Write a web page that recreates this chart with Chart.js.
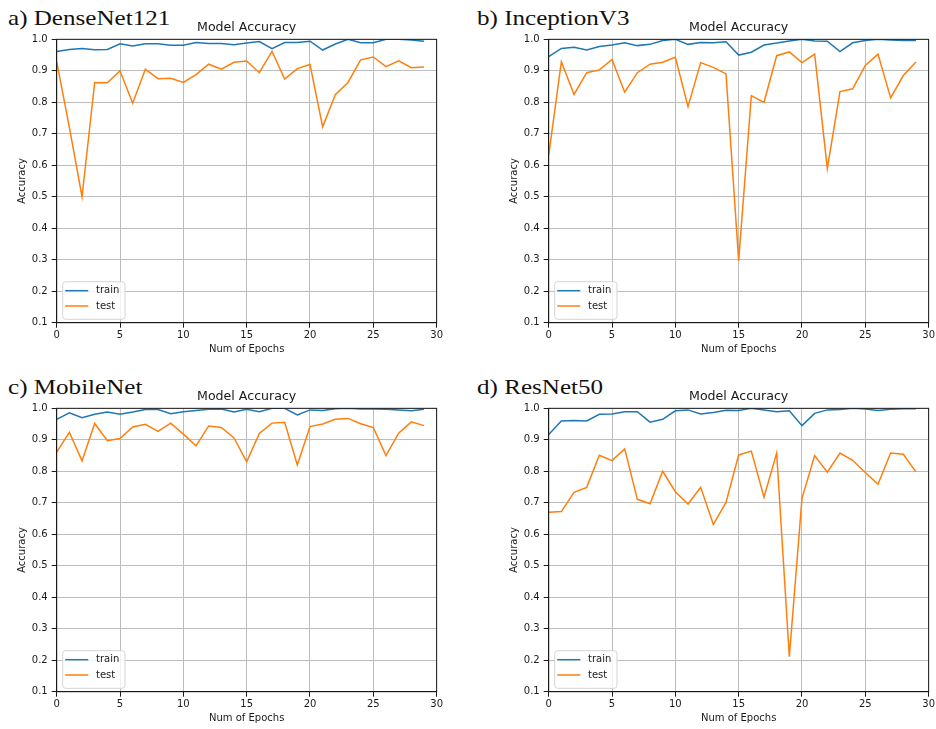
<!DOCTYPE html>
<html>
<head>
<meta charset="utf-8">
<script src="https://cdn.jsdelivr.net/npm/chart.js@4.4.1/dist/chart.umd.min.js"></script>
<style>
  html, body { margin: 0; padding: 0; background: #fff; width: 936px; height: 729px; overflow: hidden; }
  .panel { position: absolute; }
  .panel-label {
    position: absolute;
    font-family: 'Liberation Serif', 'Times New Roman', serif;
    font-size: 22px;
    line-height: 22px;
    color: #111;
    white-space: nowrap;
    transform: scaleX(1.14);
    transform-origin: left top;
  }
</style>
</head>
<body>
<div class="panel-label" style="left:8px;top:6.6px">a) DenseNet121</div>
<div class="panel-label" style="left:477px;top:6.6px">b) InceptionV3</div>
<div class="panel-label" style="left:8px;top:375.6px">c) MobileNet</div>
<div class="panel-label" style="left:477px;top:375.6px">d) ResNet50</div>

<canvas id="chart-dense" class="panel" width="445" height="360" style="left:0;top:0"></canvas>
<canvas id="chart-inception" class="panel" width="445" height="360" style="left:491.6px;top:0"></canvas>
<canvas id="chart-mobile" class="panel" width="445" height="360" style="left:0;top:369px"></canvas>
<canvas id="chart-resnet" class="panel" width="445" height="360" style="left:491.6px;top:369px"></canvas>

<script>
const epochs = [0, 1, 2, 3, 4, 5, 6, 7, 8, 9, 10, 11, 12, 13, 14, 15, 16, 17, 18, 19, 20, 21, 22, 23, 24, 25, 26, 27, 28, 29];
const yTicks = [0.1, 0.2, 0.3, 0.4, 0.5, 0.6, 0.7, 0.8, 0.9, 1.0];
const xTicks = [0, 5, 10, 15, 20, 25, 30];

const denseTrain = [0.961, 0.968, 0.971, 0.967, 0.968, 0.986, 0.979, 0.986, 0.986, 0.981, 0.981, 0.990, 0.987, 0.987, 0.983,
                    0.988, 0.993, 0.970, 0.990, 0.990, 0.994, 0.966, 0.985, 1.000, 0.989, 0.989, 1.000, 1.000, 0.998, 0.994];
const denseTest = [0.929, 0.720, 0.500, 0.863, 0.862, 0.900, 0.797, 0.905, 0.875, 0.876, 0.863, 0.888, 0.921, 0.905, 0.927,
                   0.931, 0.894, 0.962, 0.874, 0.907, 0.920, 0.722, 0.824, 0.863, 0.935, 0.944, 0.913, 0.932, 0.910, 0.912];

const inceptionTrain = [0.945, 0.971, 0.975, 0.966, 0.977, 0.982, 0.989, 0.980, 0.984, 0.996, 1.000, 0.984, 0.990, 0.989, 0.992,
                        0.950, 0.959, 0.982, 0.988, 0.995, 1.000, 0.995, 0.994, 0.961, 0.989, 0.996, 1.000, 0.998, 0.996, 0.996];
const inceptionTest = [0.632, 0.929, 0.825, 0.894, 0.903, 0.936, 0.832, 0.894, 0.921, 0.927, 0.943, 0.786, 0.926, 0.911, 0.890,
                       0.297, 0.821, 0.800, 0.948, 0.960, 0.926, 0.953, 0.590, 0.834, 0.843, 0.917, 0.953, 0.814, 0.885, 0.928];

const mobileTrain = [0.965, 0.986, 0.970, 0.981, 0.988, 0.981, 0.988, 0.996, 0.996, 0.983, 0.989, 0.993, 0.997, 0.998, 0.988,
                     0.997, 0.989, 1.000, 1.000, 0.979, 0.995, 0.993, 0.999, 1.000, 0.998, 0.998, 0.997, 0.995, 0.992, 0.997];
const mobileTest = [0.861, 0.924, 0.833, 0.952, 0.897, 0.904, 0.941, 0.949, 0.927, 0.953, 0.918, 0.881, 0.944, 0.939, 0.906,
                    0.830, 0.920, 0.953, 0.956, 0.820, 0.942, 0.950, 0.965, 0.968, 0.951, 0.939, 0.850, 0.921, 0.957, 0.945];

const resnetTrain = [0.917, 0.960, 0.961, 0.960, 0.981, 0.982, 0.989, 0.989, 0.956, 0.965, 0.992, 0.995, 0.982, 0.987, 0.994,
                     0.993, 1.000, 0.995, 0.989, 0.992, 0.945, 0.984, 0.995, 0.996, 1.000, 0.998, 0.993, 0.997, 0.999, 0.999];
const resnetTest = [0.670, 0.672, 0.733, 0.749, 0.851, 0.834, 0.871, 0.711, 0.697, 0.800, 0.735, 0.696, 0.749, 0.631, 0.701,
                    0.852, 0.864, 0.718, 0.858, 0.211, 0.714, 0.850, 0.797, 0.858, 0.835, 0.796, 0.759, 0.858, 0.854, 0.798];

const BLUE = '#1f77b4';
const ORANGE = '#ff7f0e';
const GRID = '#bdbdbd';
const INK = '#1a1a1a';

Chart.defaults.font.family = "'DejaVu Sans', sans-serif";
Chart.defaults.font.size = 10;
Chart.defaults.color = INK;

// top + right spines, matplotlib style
const spines = {
  id: 'spines',
  afterDatasetsDraw(chart) {
    const { ctx, chartArea: { left, right, top, bottom } } = chart;
    ctx.save();
    ctx.strokeStyle = INK;
    ctx.lineWidth = 1;
    ctx.strokeRect(left, top, right - left, bottom - top);
    ctx.restore();
  },
};

// framed legend in the lower-left corner of the axes
const boxLegend = {
  id: 'boxLegend',
  afterDraw(chart) {
    const { ctx, chartArea: { left, bottom } } = chart;
    const x0 = left + 6, y0 = bottom - 41, w = 62.3, h = 37.6, r = 3;
    ctx.save();
    ctx.beginPath();
    ctx.roundRect(x0, y0, w, h, r);
    ctx.fillStyle = 'rgba(255,255,255,0.8)';
    ctx.fill();
    ctx.strokeStyle = '#d4d4d4';
    ctx.lineWidth = 1;
    ctx.stroke();

    ctx.font = "10px 'DejaVu Sans'";
    ctx.textBaseline = 'middle';
    ctx.textAlign = 'left';
    chart.data.datasets.forEach((ds, i) => {
      const y = bottom - 32 + i * 15.3;
      ctx.strokeStyle = ds.borderColor;
      ctx.lineWidth = 1.5;
      ctx.beginPath();
      ctx.moveTo(left + 8.5, y);
      ctx.lineTo(left + 31.6, y);
      ctx.stroke();
      ctx.fillStyle = INK;
      ctx.fillText(ds.label, left + 39.3, y);
    });
    ctx.restore();
  },
};

function toPoints(values) {
  return values.map((v, i) => ({ x: epochs[i], y: v }));
}

function drawAccuracy(canvasId, train, test) {
  const ctx = document.getElementById(canvasId).getContext('2d');
  return new Chart(ctx, {
    type: 'line',
    data: {
      datasets: [
        { label: 'train', data: toPoints(train), borderColor: BLUE, borderWidth: 1.5, pointRadius: 0, tension: 0 },
        { label: 'test', data: toPoints(test), borderColor: ORANGE, borderWidth: 1.5, pointRadius: 0, tension: 0 },
      ],
    },
    options: {
      responsive: false,
      animation: false,
      layout: { padding: { top: 0, right: 8.3, bottom: 0, left: 0 } },
      plugins: {
        legend: { display: false },
        tooltip: { enabled: false },
        title: {
          display: true,
          text: 'Model Accuracy',
          fullSize: false,
          color: INK,
          font: { size: 12.6, weight: 'normal' },
          padding: { top: 20, bottom: 4.2 },
        },
      },
      scales: {
        x: {
          type: 'linear',
          min: xTicks[0],
          max: xTicks[xTicks.length - 1],
          afterBuildTicks: (scale) => { scale.ticks = xTicks.map(v => ({ value: v })); },
          afterFit: (scale) => { scale.height = 37.3; },
          ticks: { padding: 2, color: INK, maxRotation: 0 },
          grid: { color: GRID, tickColor: INK, tickLength: 5 },
          border: { color: INK, width: 1 },
          title: { display: true, text: 'Num of Epochs', color: INK, padding: { top: 1, bottom: 5 } },
        },
        y: {
          min: yTicks[0],
          max: yTicks[yTicks.length - 1],
          afterBuildTicks: (scale) => { scale.ticks = yTicks.map(v => ({ value: v })); },
          afterFit: (scale) => { scale.width = 56.7; },
          ticks: { padding: 4, color: INK, callback: (v) => Number(v).toFixed(1) },
          grid: { color: GRID, tickColor: INK, tickLength: 5 },
          border: { color: INK, width: 1 },
          title: { display: true, text: 'Accuracy', color: INK, padding: { top: 16, bottom: 0 } },
        },
      },
    },
    plugins: [spines, boxLegend],
  });
}

drawAccuracy('chart-dense', denseTrain, denseTest);
drawAccuracy('chart-inception', inceptionTrain, inceptionTest);
drawAccuracy('chart-mobile', mobileTrain, mobileTest);
drawAccuracy('chart-resnet', resnetTrain, resnetTest);
</script>
</body>
</html>
